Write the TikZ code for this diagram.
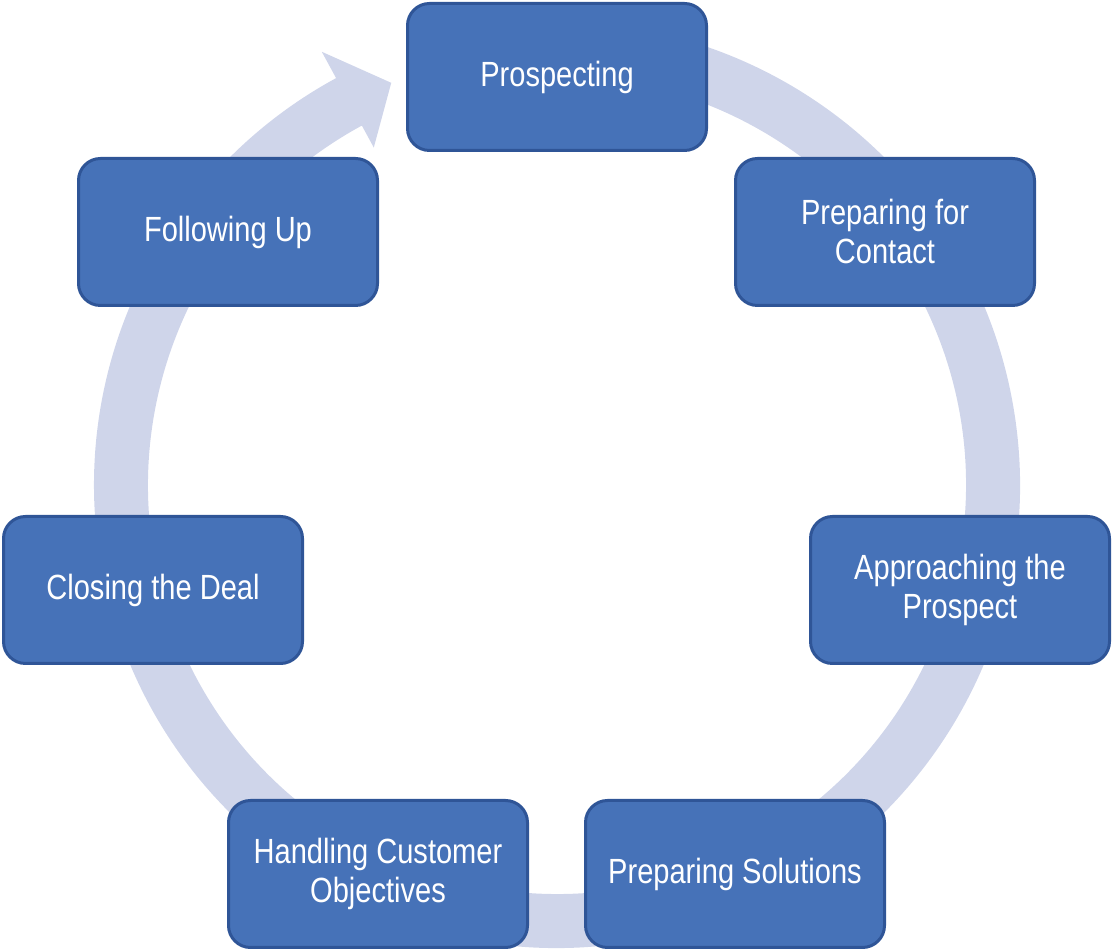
\documentclass[tikz,border=0pt]{standalone}
\usepackage{fontspec}
\setmainfont[FakeStretch=0.83]{Liberation Sans}
\definecolor{boxfill}{HTML}{4672B8}
\definecolor{boxline}{HTML}{2F5597}
\definecolor{ringcol}{HTML}{CFD5EA}
\tikzset{
  stagebox/.style={draw=boxline, fill=boxfill, line width=3pt, rounded corners=22pt,
    minimum width=299pt, minimum height=147pt, text=white, align=center,
    font=\fontsize{35}{39}\selectfont, inner sep=0pt},
  ringfill/.style={fill=ringcol}
}
\begin{document}
\begin{tikzpicture}
\useasboundingbox (0pt,0pt) rectangle (1113pt,952pt);
% ring with arrow head
\begin{scope}[shift={(557pt,467pt)}]
\fill[ringfill] (100:463pt) arc[start angle=100, end angle=-241.5, radius=463pt]
  -- (118.5:493pt) -- (112.4:435pt) -- (118.5:384pt) -- (118.5:409pt)
  arc[start angle=-241.5, end angle=100, radius=409pt] -- cycle;
\end{scope}
\node[stagebox] (p1) at (557pt,875pt) {Prospecting};
\node[stagebox] (p2) at (885pt,720pt) {Preparing for\\Contact};
\node[stagebox] (p3) at (960pt,362pt) {Approaching the\\Prospect};
\node[stagebox] (p4) at (735pt,78pt) {Preparing Solutions};
\node[stagebox] (p5) at (378pt,78pt) {Handling Customer\\Objectives};
\node[stagebox] (p6) at (153pt,362pt) {Closing the Deal};
\node[stagebox] (p7) at (228pt,720pt) {Following Up};
\end{tikzpicture}
\end{document}
